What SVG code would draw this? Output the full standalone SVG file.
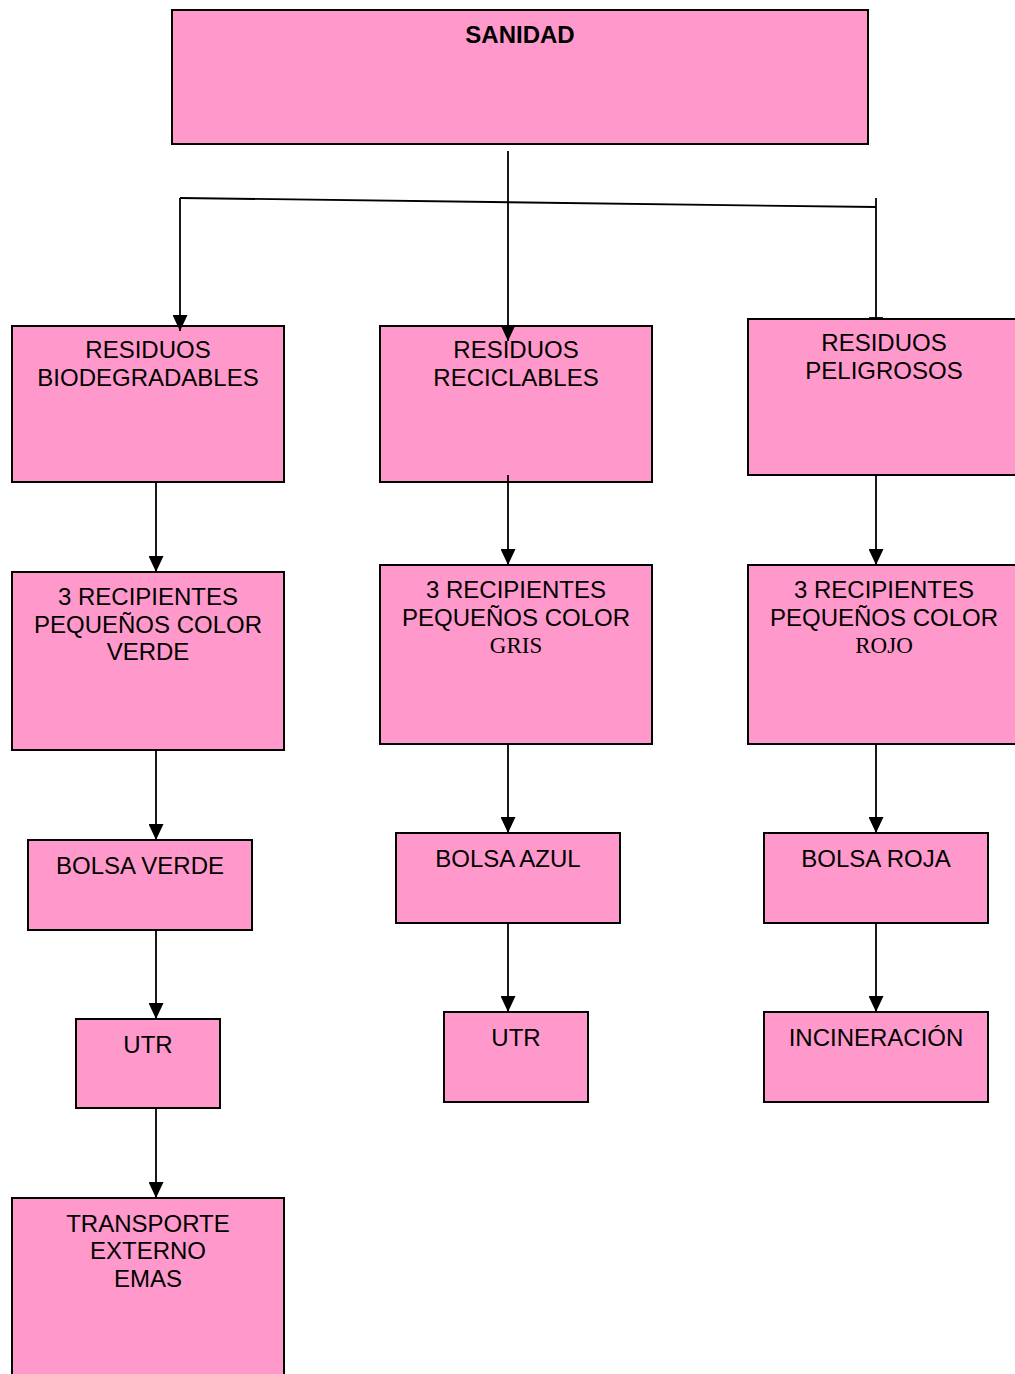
<svg xmlns="http://www.w3.org/2000/svg" width="1015" height="1374" viewBox="0 0 1015 1374">
  <style>
    .box { fill: #FF99CC; stroke: #000; stroke-width: 2; }
    .t { font-family: "Liberation Sans", Arial, sans-serif; font-size: 24px; fill: #000; text-anchor: middle; }
    .b { font-weight: bold; }
    .s { font-family: "Liberation Serif", "Times New Roman", serif; font-size: 23px; }
    .ln { fill: none; stroke: #000; stroke-width: 1.8; }
  </style>
  <defs>
    <marker id="arrow" markerUnits="userSpaceOnUse" viewBox="0 -7.5 16 15" refX="16" refY="0" markerWidth="16" markerHeight="15" orient="auto">
      <path d="M0,-7.5 L16,0 L0,7.5 z" fill="#000"/>
    </marker>
  </defs>

  <rect width="1015" height="1374" fill="#fff"/>

  <!-- root -->
  <g id="sanidad">
    <rect class="box" x="172" y="10" width="696" height="134"/>
    <text class="t b" x="520" y="43">SANIDAD</text>
  </g>

  <!-- column 1: biodegradables -->
  <g id="res-bio">
    <rect class="box" x="12" y="326" width="272" height="156"/>
    <text class="t" x="148" y="358">RESIDUOS</text>
    <text class="t" x="148" y="386">BIODEGRADABLES</text>
  </g>
  <g id="rec-verde">
    <rect class="box" x="12" y="572" width="272" height="178"/>
    <text class="t" x="148" y="605">3 RECIPIENTES</text>
    <text class="t" x="148" y="633">PEQUEÑOS COLOR</text>
    <text class="t" x="148" y="660">VERDE</text>
  </g>
  <g id="bolsa-verde">
    <rect class="box" x="28" y="840" width="224" height="90"/>
    <text class="t" x="140" y="874">BOLSA VERDE</text>
  </g>
  <g id="utr-1">
    <rect class="box" x="76" y="1019" width="144" height="89"/>
    <text class="t" x="148" y="1053">UTR</text>
  </g>
  <g id="transporte">
    <rect class="box" x="12" y="1198" width="272" height="190"/>
    <text class="t" x="148" y="1232">TRANSPORTE</text>
    <text class="t" x="148" y="1259">EXTERNO</text>
    <text class="t" x="148" y="1287">EMAS</text>
  </g>

  <!-- column 2: reciclables -->
  <g id="res-rec">
    <rect class="box" x="380" y="326" width="272" height="156"/>
    <text class="t" x="516" y="358">RESIDUOS</text>
    <text class="t" x="516" y="386">RECICLABLES</text>
  </g>
  <g id="rec-gris">
    <rect class="box" x="380" y="565" width="272" height="179"/>
    <text class="t" x="516" y="598">3 RECIPIENTES</text>
    <text class="t" x="516" y="626">PEQUEÑOS COLOR</text>
    <text class="t s" x="516" y="653">GRIS</text>
  </g>
  <g id="bolsa-azul">
    <rect class="box" x="396" y="833" width="224" height="90"/>
    <text class="t" x="508" y="867">BOLSA AZUL</text>
  </g>
  <g id="utr-2">
    <rect class="box" x="444" y="1012" width="144" height="90"/>
    <text class="t" x="516" y="1046">UTR</text>
  </g>

  <!-- column 3: peligrosos -->
  <g id="res-pel">
    <rect class="box" x="748" y="319" width="272" height="156"/>
    <text class="t" x="884" y="351">RESIDUOS</text>
    <text class="t" x="884" y="379">PELIGROSOS</text>
  </g>
  <g id="rec-rojo">
    <rect class="box" x="748" y="565" width="272" height="179"/>
    <text class="t" x="884" y="598">3 RECIPIENTES</text>
    <text class="t" x="884" y="626">PEQUEÑOS COLOR</text>
    <text class="t s" x="884" y="653">ROJO</text>
  </g>
  <g id="bolsa-roja">
    <rect class="box" x="764" y="833" width="224" height="90"/>
    <text class="t" x="876" y="867">BOLSA ROJA</text>
  </g>
  <g id="incineracion">
    <rect class="box" x="764" y="1012" width="224" height="90"/>
    <text class="t" x="876" y="1046">INCINERACIÓN</text>
  </g>

  <!-- connectors -->
  <g id="connectors">
    <line class="ln" x1="508" y1="151" x2="508" y2="341" marker-end="url(#arrow)"/>
    <line class="ln" x1="180" y1="198" x2="876" y2="207"/>
    <line class="ln" x1="180" y1="198" x2="180" y2="331" marker-end="url(#arrow)"/>
    <line class="ln" x1="876" y1="198" x2="876" y2="319"/>
    <line class="ln" x1="869" y1="318" x2="883" y2="318"/>

    <line class="ln" x1="156" y1="482" x2="156" y2="572" marker-end="url(#arrow)"/>
    <line class="ln" x1="156" y1="750" x2="156" y2="840" marker-end="url(#arrow)"/>
    <line class="ln" x1="156" y1="930" x2="156" y2="1019" marker-end="url(#arrow)"/>
    <line class="ln" x1="156" y1="1108" x2="156" y2="1198" marker-end="url(#arrow)"/>

    <line class="ln" x1="508" y1="475" x2="508" y2="565" marker-end="url(#arrow)"/>
    <line class="ln" x1="508" y1="744" x2="508" y2="833" marker-end="url(#arrow)"/>
    <line class="ln" x1="508" y1="923" x2="508" y2="1012" marker-end="url(#arrow)"/>

    <line class="ln" x1="876" y1="475" x2="876" y2="565" marker-end="url(#arrow)"/>
    <line class="ln" x1="876" y1="744" x2="876" y2="833" marker-end="url(#arrow)"/>
    <line class="ln" x1="876" y1="923" x2="876" y2="1012" marker-end="url(#arrow)"/>
  </g>
</svg>
